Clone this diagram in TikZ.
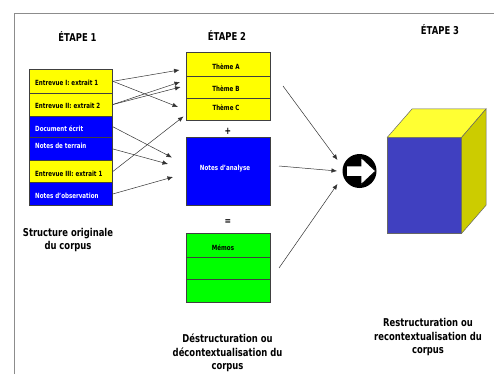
\documentclass[tikz,border=0pt]{standalone}
\usepackage{fontspec}
\setmainfont{DejaVu Sans}[FakeStretch=0.78]
\usetikzlibrary{arrows.meta}
\definecolor{ylw}{RGB}{255,255,0}
\definecolor{blu}{RGB}{0,0,255}
\definecolor{grn}{RGB}{0,255,0}
\definecolor{cubefront}{RGB}{64,64,192}
\definecolor{cubetop}{RGB}{255,255,51}
\definecolor{cubeside}{RGB}{204,204,0}
\definecolor{framegrey}{RGB}{140,140,140}
\tikzset{
  cell/.style={draw=black!75, line width=0.6pt, inner sep=0pt, anchor=north west},
  lcell/.style={cell, minimum width=83.6pt},
  mcell/.style={cell, minimum width=84pt},
  lbl/.style={font=\bfseries\fontsize{7.1}{8}\selectfont, inner sep=0pt},
  title/.style={font=\bfseries\fontsize{10.8}{12}\selectfont, inner sep=0pt},
  caption/.style={font=\bfseries\fontsize{10.8}{13.5}\selectfont, align=center, inner sep=0pt},
  conn/.style={draw=black!80, line width=0.5pt, -{Latex[length=5.5pt,width=4.5pt]}},
  cubeedge/.style={draw=black!60, line width=0.5pt}
}
\begin{document}
\begin{tikzpicture}[x=1pt,y=-1pt]
\useasboundingbox (0,0) rectangle (494,374);
\fill[white] (0,0) rectangle (494,374);
% frame
\draw[framegrey, line width=0.8pt] (14,374) -- (14,13) -- (494,13);

% titles
\node[title] (t1) at (77.5,36) {ÉTAPE 1};
\node[title] (t2) at (227,35.5) {ÉTAPE 2};
\node[title] (t3) at (440,29.5) {ÉTAPE 3};

% left column
\node[lcell, fill=ylw, minimum height=23.4pt] (e1) at (28.7,69.3) {};
\node[lcell, fill=ylw, minimum height=23pt] (e2) at (28.7,92.7) {};
\node[lcell, fill=blu, minimum height=21.6pt] (e3) at (28.7,115.7) {};
\node[lcell, fill=blu, minimum height=22.7pt] (e4) at (28.7,137.3) {};
\node[lcell, fill=ylw, minimum height=22.3pt] (e5) at (28.7,160) {};
\node[lcell, fill=blu, minimum height=22.7pt] (e6) at (28.7,182.3) {};
\node[lbl, anchor=west] (le1) at (35,82.7) {Entrevue I: extrait 1};
\node[lbl, anchor=west] (le2) at (35,105.8) {Entrevue II: extrait 2};
\node[lbl, anchor=west, text=white] (le3) at (35,128.3) {Document écrit};
\node[lbl, anchor=west, text=white] (le4) at (35,146.3) {Notes de terrain};
\node[lbl, anchor=west] (le5) at (35,174.3) {Entrevue III: extrait 1};
\node[lbl, anchor=west, text=white] (le6) at (35,196.2) {Notes d'observation};
\node[caption] (c1) at (68,240) {Structure originale\\du corpus};

% middle column
\node[mcell, fill=ylw, minimum height=23.4pt] (ta) at (186,52.3) {};
\node[mcell, fill=ylw, minimum height=22pt] (tb) at (186,75.7) {};
\node[mcell, fill=ylw, minimum height=22.3pt] (tc) at (186,97.7) {};
\node[lbl] (lta) at (226,66.3) {Thème A};
\node[lbl] (ltb) at (226,88.8) {Thème B};
\node[lbl] (ltc) at (226,107.8) {Thème C};
\node[lbl, font=\bfseries\fontsize{10}{10}\selectfont] (plus) at (228,131) {+};
\node[mcell, fill=blu, minimum height=67.7pt] (na) at (186,137.3) {};
\node[lbl, text=white] (lna) at (225,169) {Notes d'analyse};
\node[lbl, font=\bfseries\fontsize{10}{10}\selectfont] (eq) at (228,222) {=};
\node[mcell, fill=grn, minimum height=23.4pt] (m1) at (186,233.3) {};
\node[mcell, fill=grn, minimum height=22.3pt] (m2) at (186,256.7) {};
\node[mcell, fill=grn, minimum height=22.7pt] (m3) at (186,279) {};
\node[lbl] (lm) at (223,247.7) {Mémos};
\node[caption] (c2) at (227.5,353) {Déstructuration ou\\décontextualisation du\\corpus};

% arrow targets
\coordinate (pA) at (179.5,70);
\coordinate (pC1) at (178,107);
\coordinate (pB1) at (180,82);
\coordinate (pB2) at (180.5,87);
\coordinate (pN1) at (172,157.5);
\coordinate (pN2) at (168,164);
\coordinate (pC2) at (183.5,116.5);
\coordinate (pN3) at (173,177);

\draw[conn] (e1.east) -- (pA);
\draw[conn] (e1.east) -- (pC1);
\draw[conn] (e2.east) -- (pB1);
\draw[conn] (e2.east) -- (pB2);
\draw[conn] (e3.east) -- (pN1);
\draw[conn] (e4.east) -- (pN2);
\draw[conn] (e5.east) -- (pC2);
\draw[conn] (e6.east) -- (pN3);

% converging arrows
\coordinate (s1) at (283,86);
\coordinate (s2) at (279,166);
\coordinate (s3) at (279,268);
\coordinate (f1) at (337.5,160);
\coordinate (f2) at (337,171);
\coordinate (f3) at (337.5,184);
\draw[conn] (s1) -- (f1);
\draw[conn] (s2) -- (f2);
\draw[conn] (s3) -- (f3);

% circle arrow symbol
\node[circle, fill=black, minimum size=34pt, inner sep=0pt] (circ) at (359.5,171) {};
\fill[white, draw=black, line width=0.6pt]
  (346.5,166) -- (361,166) -- (361,157.5) -- (375.5,171) -- (361,184.5) -- (361,176.5) -- (346.5,176.5) -- cycle;

% cube
\filldraw[fill=cubefront, cubeedge] (387.3,137.3) rectangle (461.7,233.3);
\filldraw[fill=cubetop, cubeedge] (387.3,137.3) -- (412,109) -- (486,109) -- (461.7,137.3) -- cycle;
\filldraw[fill=cubeside, cubeedge] (461.7,137.3) -- (486,109) -- (486,205.3) -- (461.7,233.3) -- cycle;
\node[caption] (c3) at (428,337.5) {Restructuration ou\\recontextualisation du\\corpus};
\end{tikzpicture}
\end{document}
